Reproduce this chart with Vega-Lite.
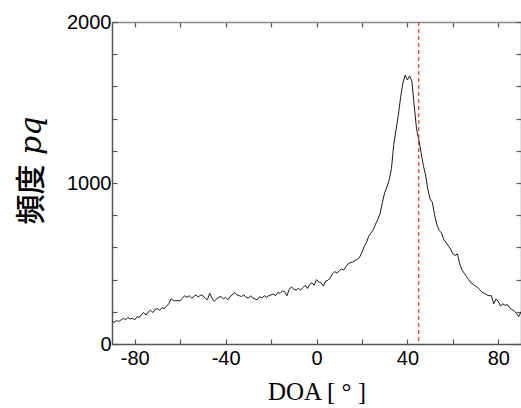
{
  "$schema": "https://vega.github.io/schema/vega-lite/v6.json",
  "width": 409,
  "height": 322,
  "autosize": {"type": "none"},
  "padding": {"left": 112, "top": 22, "right": 0, "bottom": 64},
  "background": "white",
  "config": {"view": {"stroke": null}},
  "datasets": {
    "curve": [
      {"doa": -90, "freq": 140}, {"doa": -89, "freq": 135}, {"doa": -88, "freq": 145}, {"doa": -87, "freq": 140}, {"doa": -86, "freq": 150},
      {"doa": -85, "freq": 160}, {"doa": -84, "freq": 150}, {"doa": -83, "freq": 165}, {"doa": -82, "freq": 155}, {"doa": -81, "freq": 160},
      {"doa": -80, "freq": 150}, {"doa": -79, "freq": 170}, {"doa": -78, "freq": 165}, {"doa": -77, "freq": 185}, {"doa": -76, "freq": 195},
      {"doa": -75, "freq": 180}, {"doa": -74, "freq": 200}, {"doa": -73, "freq": 210}, {"doa": -72, "freq": 195}, {"doa": -71, "freq": 215},
      {"doa": -70, "freq": 220}, {"doa": -69, "freq": 210}, {"doa": -68, "freq": 225}, {"doa": -67, "freq": 220}, {"doa": -66, "freq": 235},
      {"doa": -65, "freq": 250}, {"doa": -64, "freq": 280}, {"doa": -63, "freq": 270}, {"doa": -62, "freq": 268}, {"doa": -61, "freq": 270},
      {"doa": -60, "freq": 268}, {"doa": -59, "freq": 285}, {"doa": -58, "freq": 300}, {"doa": -57, "freq": 290}, {"doa": -56, "freq": 300},
      {"doa": -55, "freq": 285}, {"doa": -54, "freq": 295}, {"doa": -53, "freq": 305}, {"doa": -52, "freq": 290}, {"doa": -51, "freq": 305},
      {"doa": -50, "freq": 300}, {"doa": -49, "freq": 285}, {"doa": -48, "freq": 275}, {"doa": -47, "freq": 315}, {"doa": -46, "freq": 285},
      {"doa": -45, "freq": 265}, {"doa": -44, "freq": 280}, {"doa": -43, "freq": 290}, {"doa": -42, "freq": 295}, {"doa": -41, "freq": 280},
      {"doa": -40, "freq": 290}, {"doa": -39, "freq": 275}, {"doa": -38, "freq": 295}, {"doa": -37, "freq": 305}, {"doa": -36, "freq": 320},
      {"doa": -35, "freq": 305}, {"doa": -34, "freq": 300}, {"doa": -33, "freq": 295}, {"doa": -32, "freq": 305}, {"doa": -31, "freq": 290},
      {"doa": -30, "freq": 285}, {"doa": -29, "freq": 300}, {"doa": -28, "freq": 285}, {"doa": -27, "freq": 280}, {"doa": -26, "freq": 275},
      {"doa": -25, "freq": 295}, {"doa": -24, "freq": 285}, {"doa": -23, "freq": 300}, {"doa": -22, "freq": 290}, {"doa": -21, "freq": 300},
      {"doa": -20, "freq": 305}, {"doa": -19, "freq": 310}, {"doa": -18, "freq": 300}, {"doa": -17, "freq": 320}, {"doa": -16, "freq": 315},
      {"doa": -15, "freq": 330}, {"doa": -14, "freq": 325}, {"doa": -13, "freq": 300}, {"doa": -12, "freq": 340}, {"doa": -11, "freq": 355},
      {"doa": -10, "freq": 340}, {"doa": -9, "freq": 335}, {"doa": -8, "freq": 345}, {"doa": -7, "freq": 335}, {"doa": -6, "freq": 350},
      {"doa": -5, "freq": 365}, {"doa": -4, "freq": 345}, {"doa": -3, "freq": 370}, {"doa": -2, "freq": 380}, {"doa": -1, "freq": 365},
      {"doa": 0, "freq": 400}, {"doa": 1, "freq": 385}, {"doa": 2, "freq": 380}, {"doa": 3, "freq": 360}, {"doa": 4, "freq": 390},
      {"doa": 5, "freq": 395}, {"doa": 6, "freq": 410}, {"doa": 7, "freq": 435}, {"doa": 8, "freq": 450}, {"doa": 9, "freq": 440},
      {"doa": 10, "freq": 455}, {"doa": 11, "freq": 465}, {"doa": 12, "freq": 460}, {"doa": 13, "freq": 480}, {"doa": 14, "freq": 500},
      {"doa": 15, "freq": 505}, {"doa": 16, "freq": 510}, {"doa": 17, "freq": 520}, {"doa": 18, "freq": 525}, {"doa": 19, "freq": 540},
      {"doa": 20, "freq": 570}, {"doa": 21, "freq": 605}, {"doa": 22, "freq": 630}, {"doa": 23, "freq": 670}, {"doa": 24, "freq": 690},
      {"doa": 25, "freq": 710}, {"doa": 26, "freq": 745}, {"doa": 27, "freq": 775}, {"doa": 28, "freq": 810}, {"doa": 29, "freq": 880},
      {"doa": 30, "freq": 940}, {"doa": 31, "freq": 975}, {"doa": 32, "freq": 1020}, {"doa": 33, "freq": 1090}, {"doa": 34, "freq": 1240},
      {"doa": 35, "freq": 1330}, {"doa": 36, "freq": 1420}, {"doa": 37, "freq": 1530}, {"doa": 38, "freq": 1620}, {"doa": 39, "freq": 1670},
      {"doa": 40, "freq": 1640}, {"doa": 41, "freq": 1665}, {"doa": 42, "freq": 1630}, {"doa": 43, "freq": 1480}, {"doa": 44, "freq": 1340},
      {"doa": 45, "freq": 1270}, {"doa": 46, "freq": 1190}, {"doa": 47, "freq": 1110}, {"doa": 48, "freq": 1050}, {"doa": 49, "freq": 960},
      {"doa": 50, "freq": 900}, {"doa": 51, "freq": 880}, {"doa": 52, "freq": 800}, {"doa": 53, "freq": 740}, {"doa": 54, "freq": 705},
      {"doa": 55, "freq": 690}, {"doa": 56, "freq": 650}, {"doa": 57, "freq": 630}, {"doa": 58, "freq": 610}, {"doa": 59, "freq": 590},
      {"doa": 60, "freq": 560}, {"doa": 61, "freq": 550}, {"doa": 62, "freq": 560}, {"doa": 63, "freq": 500}, {"doa": 64, "freq": 460},
      {"doa": 65, "freq": 440}, {"doa": 66, "freq": 420}, {"doa": 67, "freq": 400}, {"doa": 68, "freq": 380}, {"doa": 69, "freq": 370},
      {"doa": 70, "freq": 360}, {"doa": 71, "freq": 350}, {"doa": 72, "freq": 335}, {"doa": 73, "freq": 320}, {"doa": 74, "freq": 315},
      {"doa": 75, "freq": 305}, {"doa": 76, "freq": 300}, {"doa": 77, "freq": 300}, {"doa": 78, "freq": 250}, {"doa": 79, "freq": 280},
      {"doa": 80, "freq": 265}, {"doa": 81, "freq": 235}, {"doa": 82, "freq": 250}, {"doa": 83, "freq": 240}, {"doa": 84, "freq": 245},
      {"doa": 85, "freq": 225}, {"doa": 86, "freq": 215}, {"doa": 87, "freq": 205}, {"doa": 88, "freq": 190}, {"doa": 89, "freq": 170},
      {"doa": 90, "freq": 200}
    ],
    "marker": [{"doa": 45}]
  },
  "resolve": {"axis": {"x": "independent", "y": "independent"}},
  "layer": [
    {
      "data": {"name": "curve"},
      "mark": {"type": "line", "color": "#1a1a1a", "strokeWidth": 1, "clip": true},
      "encoding": {
        "x": {
          "field": "doa", "type": "quantitative",
          "scale": {"domain": [-90, 90], "nice": false, "zero": false},
          "axis": {
            "orient": "bottom",
            "values": [-80, -60, -40, -20, 0, 20, 40, 60, 80],
            "labelExpr": "datum.value % 40 === 0 ? (datum.value < 0 ? '-' + abs(datum.value) : '' + datum.value) : ''",
            "grid": false,
            "domainColor": "#555555", "domainWidth": 1.5,
            "tickColor": "#555555", "tickSize": -5, "tickWidth": 1.2,
            "labelFont": "Liberation Sans", "labelFontSize": 20, "labelColor": "#000000",
            "labelPadding": 9, "labelFlush": false,
            "title": "DOA [ ° ]",
            "titleFont": "Liberation Serif", "titleFontSize": 25, "titleFontWeight": "normal", "titleColor": "#000000",
            "titlePadding": 11
          }
        },
        "y": {
          "field": "freq", "type": "quantitative",
          "scale": {"domain": [0, 2000], "nice": false},
          "axis": {
            "orient": "left",
            "values": [0, 200, 400, 600, 800, 1000, 1200, 1400, 1600, 1800, 2000],
            "labelExpr": "datum.value % 1000 === 0 ? '' + datum.value : ''",
            "grid": false,
            "domainColor": "#555555", "domainWidth": 1.5,
            "tickColor": "#555555", "tickSize": -5, "tickWidth": 1.2,
            "labelFont": "Liberation Sans", "labelFontSize": 20, "labelColor": "#000000",
            "labelPadding": 6, "labelFlush": false,
            "title": "頻度 𝑝𝑞",
            "titleFont": "DejaVu Serif, Noto Sans CJK JP",
            "titleFontSize": 30, "titleFontWeight": 500, "titleColor": "#000000",
            "titlePadding": 20,
            "titleY": 148
          }
        }
      }
    },
    {
      "data": {"name": "curve"},
      "mark": {"type": "line", "opacity": 0},
      "encoding": {
        "x": {
          "field": "doa", "type": "quantitative",
          "axis": {
            "orient": "top",
            "values": [-80, -60, -40, -20, 0, 20, 40, 60, 80],
            "labels": false, "title": null, "grid": false,
            "domainColor": "#888888", "domainWidth": 1.5,
            "tickColor": "#555555", "tickSize": -5, "tickWidth": 1.2
          }
        },
        "y": {
          "field": "freq", "type": "quantitative",
          "axis": {
            "orient": "right",
            "values": [0, 200, 400, 600, 800, 1000, 1200, 1400, 1600, 1800, 2000],
            "labels": false, "title": null, "grid": false,
            "domainColor": "#888888", "domainWidth": 1.5,
            "tickColor": "#555555", "tickSize": -5, "tickWidth": 1.2
          }
        }
      }
    },
    {
      "data": {"name": "marker"},
      "mark": {"type": "rule", "color": "#e8302a", "strokeWidth": 1.2, "strokeDash": [4, 3]},
      "encoding": {
        "x": {"field": "doa", "type": "quantitative", "axis": null}
      }
    }
  ]
}
